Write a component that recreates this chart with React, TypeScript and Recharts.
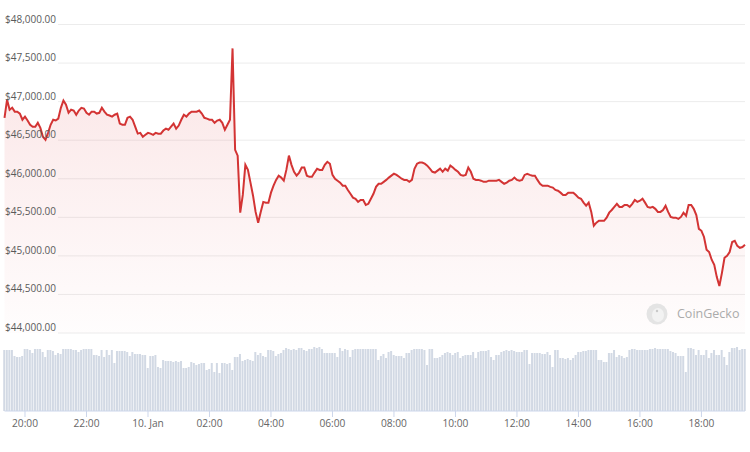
import { AreaChart, Area, BarChart, Bar, XAxis, YAxis, CartesianGrid } from "recharts";

// minutes from 20:00 (9 Jan); one point every 5 minutes starting 19:20
const startMinute = -40;
const stepMinutes = 5;

const prices = [
  46790, 47025, 46895, 46920, 46870, 46870, 46845, 46765, 46805, 46755, 46700, 46675,
  46675, 46725, 46660, 46545, 46505, 46595, 46700, 46765, 46755, 46780, 46920, 47015,
  46960, 46855, 46895, 46885, 46830, 46885, 46920, 46910, 46855, 46830, 46870, 46870,
  46845, 46855, 46920, 46870, 46830, 46820, 46805, 46830, 46845, 46715, 46700, 46700,
  46790, 46805, 46765, 46675, 46585, 46595, 46545, 46570, 46595, 46585, 46570, 46595,
  46585, 46585, 46625, 46650, 46635, 46675, 46715, 46650, 46690, 46765, 46830, 46805,
  46845, 46870, 46870, 46870, 46885, 46845, 46790, 46780, 46765, 46765, 46725, 46755,
  46765, 46725, 46635, 46700, 46765, 47690, 46375, 46300, 45560, 45790, 46180, 46115,
  45950, 45780, 45570, 45430, 45570, 45700, 45690, 45690, 45820, 45910, 45985, 46040,
  46015, 45975, 46115, 46300, 46180, 46090, 46040, 46080, 46145, 46145, 46040, 46025,
  46025, 46080, 46130, 46115, 46115, 46180, 46220, 46195, 46050, 46000, 45975, 45950,
  45910, 45910, 45855, 45805, 45755, 45740, 45700, 45725, 45725, 45660, 45675, 45740,
  45805, 45895, 45935, 45935, 45960, 45985, 46015, 46040, 46065, 46050, 46025, 46000,
  45985, 45985, 45960, 45985, 46130, 46195, 46210, 46210, 46195, 46170, 46130, 46090,
  46080, 46105, 46130, 46090, 46130, 46105, 46170, 46145, 46115, 46090, 46050, 46040,
  46050, 46145, 46090, 46000, 45985, 45985, 45975, 45960, 45960, 45975, 45975, 45975,
  45975, 45985, 45960, 45935, 45950, 45975, 45985, 46015, 45985, 45975, 45985, 46050,
  46065, 46050, 46040, 46040, 45985, 45935, 45910, 45910, 45910, 45895, 45885, 45855,
  45845, 45820, 45790, 45790, 45820, 45820, 45820, 45790, 45755, 45740, 45690, 45650,
  45690, 45570, 45390, 45430, 45455, 45455, 45455, 45495, 45560, 45595, 45635, 45675,
  45635, 45635, 45660, 45660, 45635, 45675, 45725, 45700, 45715, 45740, 45690, 45635,
  45625, 45635, 45610, 45570, 45570, 45595, 45650, 45570, 45505, 45495, 45495, 45480,
  45505, 45560, 45520, 45660, 45660, 45610, 45530, 45350, 45325, 45245, 45080, 45050,
  44950, 44885, 44725, 44610, 44780, 44975, 45000, 45050, 45180, 45195, 45130, 45105,
  45115, 45145,
];

const volumes = [
  61, 61, 61, 61, 55, 54, 54, 55, 62, 62, 61, 58,
  62, 62, 62, 59, 54, 61, 61, 60, 56, 58, 57, 62,
  62, 62, 62, 61, 61, 59, 61, 62, 62, 62, 62, 56,
  56, 55, 61, 54, 61, 56, 61, 48, 60, 60, 60, 60,
  59, 55, 59, 57, 57, 57, 56, 56, 43, 55, 55, 56,
  44, 43, 51, 50, 50, 50, 49, 50, 49, 50, 43, 43,
  44, 49, 48, 46, 47, 48, 48, 41, 42, 48, 39, 48,
  38, 48, 48, 47, 48, 41, 54, 54, 57, 50, 51, 52,
  51, 50, 59, 56, 58, 55, 54, 61, 61, 60, 55, 57,
  58, 61, 63, 62, 61, 62, 61, 63, 63, 61, 60, 62,
  62, 64, 63, 64, 62, 58, 58, 58, 58, 58, 54, 63,
  60, 62, 61, 54, 61, 62, 62, 62, 62, 62, 62, 62,
  62, 62, 51, 55, 57, 53, 59, 60, 56, 55, 55, 55,
  53, 58, 58, 61, 62, 62, 62, 62, 61, 46, 62, 62,
  53, 53, 54, 56, 58, 59, 58, 56, 58, 59, 53, 55,
  56, 56, 56, 59, 53, 59, 60, 60, 60, 61, 54, 51,
  56, 56, 59, 60, 61, 60, 61, 60, 59, 59, 59, 61,
  61, 47, 58, 58, 58, 58, 57, 57, 59, 56, 44, 61,
  61, 53, 53, 52, 53, 51, 53, 56, 59, 59, 60, 60,
  61, 61, 61, 61, 51, 51, 49, 49, 58, 58, 61, 54,
  56, 55, 53, 54, 61, 62, 62, 61, 61, 61, 61, 61,
  62, 62, 63, 62, 62, 62, 62, 62, 60, 59, 58, 55,
  55, 55, 39, 63, 63, 62, 56, 61, 56, 56, 61, 53,
  58, 61, 56, 56, 61, 54, 46, 59, 63, 63, 64, 61,
  62, 62,
];

const priceTicks = [44000, 44500, 45000, 45500, 46000, 46500, 47000, 47500, 48000];
const timeTicks = [0, 120, 240, 360, 480, 600, 720, 840, 960, 1080, 1200, 1320];
const timeTickLabels = ["20:00", "22:00", "10. Jan", "02:00", "04:00", "06:00", "08:00", "10:00", "12:00", "14:00", "16:00", "18:00"];

const times = prices.map((_, i) => startMinute + i * stepMinutes);
const priceData = times.map((t, i) => ({ t, price: prices[i] }));
const volumeData = times.map((t, i) => ({ t, volume: volumes[i] }));

const xDomain = [times[0], times[times.length - 1]];

const fmtPrice = (v: number) =>
  "$" + v.toLocaleString("en-US", { minimumFractionDigits: 2, maximumFractionDigits: 2 });

const PriceTick = (props: any) => {
  const { y, payload } = props;
  return (
    <text x={5} y={y - 2} fill="#5a5a5a" fontSize={10} textAnchor="start">
      {fmtPrice(payload.value)}
    </text>
  );
};

export default function App() {
  return (
    <div
      style={{
        position: "absolute",
        top: 0,
        left: 0,
        width: 750,
        height: 452,
        background: "#fff",
        fontFamily: "'Open Sans', sans-serif",
      }}
    >
      <div style={{ position: "absolute", top: 0, left: 0 }}>
        <AreaChart width={750} height={345} data={priceData} margin={{ top: 24.5, right: 5, bottom: 12, left: 4.5 }}>
          <defs>
            <linearGradient id="priceFill" x1="0" y1="0" x2="0" y2="1">
              <stop offset="0%" stopColor="#e0474c" stopOpacity={0.24} />
              <stop offset="100%" stopColor="#e0474c" stopOpacity={0.02} />
            </linearGradient>
          </defs>
          <CartesianGrid vertical={false} stroke="#ececec" x={58} width={687} />
          <XAxis dataKey="t" type="number" domain={xDomain} hide />
          <YAxis
            type="number"
            domain={[44000, 48000]}
            ticks={priceTicks}
            interval={0}
            mirror
            axisLine={false}
            tickLine={false}
            tick={PriceTick}
          />
          <Area
            type="linear"
            dataKey="price"
            stroke="#d33434"
            strokeWidth={2}
            fill="url(#priceFill)"
            dot={false}
            activeDot={false}
            isAnimationActive={false}
          />
        </AreaChart>
      </div>

      <div style={{ position: "absolute", top: 340, left: 0 }}>
        <BarChart width={750} height={112} data={volumeData} margin={{ top: 5, right: 5, bottom: 11, left: 4.5 }}>
          <XAxis
            dataKey="t"
            type="number"
            domain={xDomain}
            ticks={timeTicks}
            interval={0}
            tickFormatter={(v: number) => timeTickLabels[timeTicks.indexOf(v)]}
            height={30}
            stroke="#ccd6eb"
            tickSize={6}
            tickMargin={3}
            tick={{ fill: "#666", fontSize: 10.2 }}
          />
          <YAxis domain={[0, 66]} hide />
          <Bar dataKey="volume" fill="#d2d9e4" barSize={2} isAnimationActive={false} />
        </BarChart>
      </div>

      <div
        style={{
          position: "absolute",
          left: 646,
          top: 303,
          display: "flex",
          alignItems: "center",
          gap: 9,
        }}
      >
        <svg width={22} height={22}>
          <circle cx={11} cy={11} r={10.5} fill="#e4e4e4" />
          <ellipse cx={12} cy={12} rx={6} ry={7} fill="#f2f2f2" />
          <circle cx={11} cy={8} r={1.2} fill="#c8c8c8" />
        </svg>
        <span style={{ fontSize: 12.5, color: "#ababab", lineHeight: "22px" }}>CoinGecko</span>
      </div>
    </div>
  );
}
